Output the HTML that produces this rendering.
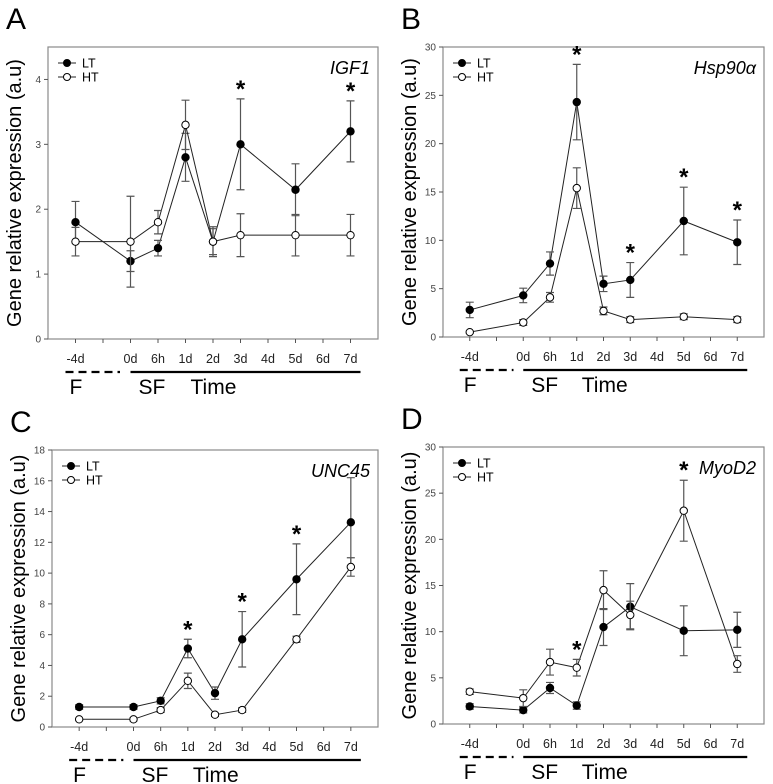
<!DOCTYPE html>
<html><head><meta charset="utf-8"><style>
html,body{margin:0;padding:0;background:#fff;}
svg{display:block;font-family:"Liberation Sans",sans-serif;}
</style></head><body>
<svg id="fig" width="773" height="784" viewBox="0 0 773 784" xmlns="http://www.w3.org/2000/svg"></svg>
<script>
const xCats = ["-4d","","0d","6h","1d","2d","3d","4d","5d","6d","7d"];
const ptIdx = [0,2,3,4,5,6,8,10];

const aLT = [1.8,1.2,1.4,2.8,1.5,3.0,2.3,3.2];
const aLTerr = [0.32,0.16,0.12,0.37,0.2,0.7,0.4,0.47];
const aHT = [1.5,1.5,1.8,3.3,1.5,1.6,1.6,1.6];
const aHTerr = [0.22,0.7,0.18,0.38,0.23,0.33,0.32,0.32];
const aStars = [6,10];

const bLT = [2.8,4.3,7.6,24.3,5.5,5.9,12.0,9.8];
const bLTerr = [0.8,0.75,1.2,3.9,0.8,1.8,3.5,2.3];
const bHT = [0.5,1.5,4.1,15.4,2.7,1.8,2.1,1.8];
const bHTerr = [0.1,0.3,0.5,2.1,0.4,0.3,0.3,0.3];
const bStars = [4,6,8,10];

const cLT = [1.3,1.3,1.7,5.1,2.2,5.7,9.6,13.3];
const cLTerr = [0.15,0.15,0.2,0.6,0.4,1.8,2.3,2.9];
const cHT = [0.5,0.5,1.1,3.0,0.8,1.1,5.7,10.4];
const cHTerr = [0.05,0.1,0.15,0.5,0.1,0.15,0.2,0.6];
const cStars = [4,6,8];

const dLT = [1.9,1.5,3.9,2.0,10.5,12.7,10.1,10.2];
const dLTerr = [0.3,0.3,0.6,0.4,2.0,2.5,2.7,1.9];
const dHT = [3.5,2.8,6.7,6.1,14.5,11.8,23.1,6.5];
const dHTerr = [0.3,0.9,1.4,0.9,2.1,1.5,3.3,0.9];
const dStars = [4,8];

const aTicks = [0,1,2,3,4];
const bTicks = [0,5,10,15,20,25,30];
const cTicks = [0,2,4,6,8,10,12,14,16,18];
const dTicks = [0,5,10,15,20,25,30];

const NS = "http://www.w3.org/2000/svg";
const svg = document.getElementById("fig");
function mk(tag, attrs, parent, text){
  const e = document.createElementNS(NS, tag);
  for (const k in attrs) e.setAttribute(k, attrs[k]);
  if (text !== undefined) e.textContent = text;
  (parent||svg).appendChild(e);
  return e;
}

function panel(p){
  const g = mk("g", {});
  
  
  const xs = i => p.L + (i + 1) * (p.R - p.L) / 12;
  const ys = v => p.B - v / p.ymax * (p.B - p.T);

  const lbl = mk("text", {x:p.L-42, y:p.T-18, "font-size":30}, g, p.letter);
  
  

  const box = mk("rect", {x:p.L, y:p.T, width:p.R-p.L, height:p.B-p.T, fill:"none", stroke:"#8a8a8a", "stroke-width":1.2}, g);
  
  

  p.ticks.forEach(t => {
    mk("line", {x1:p.L-4, x2:p.L, y1:ys(t), y2:ys(t), stroke:"#555"}, g);
    const tl = mk("text", {x:p.L-7, y:ys(t)+3.5, "font-size":10, fill:"#444", "text-anchor":"end"}, g, t);
    
    
  });
  xCats.forEach((c, i) => {
    mk("line", {x1:xs(i), x2:xs(i), y1:p.B, y2:p.B+4, stroke:"#555"}, g);
    if (c) {
      const tl = mk("text", {x:xs(i), y:p.B+24, "font-size":12.5, fill:"#222", "text-anchor":"middle"}, g, c);
      
      
    }
  });
  const ly = p.B + 33;
  const dl = mk("line", {x1:xs(0)-10, x2:xs(1)+17, y1:ly, y2:ly, stroke:"#000", "stroke-width":2.2, "stroke-dasharray":"8,5"}, g);
  
  
  const sl = mk("line", {x1:xs(2), x2:xs(10)+10, y1:ly, y2:ly, stroke:"#000", "stroke-width":2.2}, g);
  
  
  const f = mk("text", {x:xs(0)-6, y:ly+22, "font-size":21}, g, "F");
  
  
  const sf = mk("text", {x:xs(2)+8, y:ly+22, "font-size":21}, g, "SF");
  
  
  const tm = mk("text", {x:xs(4)+5, y:ly+22, "font-size":21}, g, "Time");
  
  

  const yt = mk("text", {x:0, y:0, "font-size":20, "text-anchor":"middle", transform:`translate(${p.L-27},${(p.T+p.B)/2}) rotate(-90)`}, g, "Gene relative expression (a.u)");
  
  

  const gn = mk("text", {x:p.R-8, y:p.T+27, "font-size":18, "font-style":"italic", "text-anchor":"end"}, g, p.gene);
  
  

  [[p.lt, p.ltErr, "#000", "lt"], [p.ht, p.htErr, "#fff", "ht"]].forEach(([vals, errs, fill, nm]) => {
    const pts = vals.map((v, k) => xs(ptIdx[k]) + "," + ys(v)).join(" ");
    const pl = mk("polyline", {points:pts, fill:"none", stroke:"#222", "stroke-width":1}, g);
    
    
    vals.forEach((v, k) => {
      const x = xs(ptIdx[k]);
      const e = mk("path", {d:`M${x},${ys(v-errs[k])}V${ys(v+errs[k])}M${x-4},${ys(v-errs[k])}h8M${x-4},${ys(v+errs[k])}h8`, stroke:"#555", "stroke-width":1.2, fill:"none"}, g);
      
      
    });
    vals.forEach((v, k) => {
      const c = mk("circle", {cx:xs(ptIdx[k]), cy:ys(v), r:3.7, fill:fill, stroke:"#000", "stroke-width":1}, g);
      
      
    });
  });

  p.stars.forEach(i => {
    const k = ptIdx.indexOf(i);
    const top = Math.max(p.lt[k] + p.ltErr[k], p.ht[k] + p.htErr[k]);
    const s = mk("text", {x:xs(i), y:ys(top)-2, "font-size":24, "font-weight":"bold", "text-anchor":"middle"}, g, "*");
    
    
  });

  const lx = p.L + 10, l1 = p.T + 16, l2 = p.T + 30;
  const lg = mk("g", {}, g);
  
  
  [[l1, "#000", "LT"], [l2, "#fff", "HT"]].forEach(([yy, fill, t]) => {
    mk("line", {x1:lx, x2:lx+18, y1:yy, y2:yy, stroke:"#222"}, lg);
    mk("circle", {cx:lx+9, cy:yy, r:3.5, fill:fill, stroke:"#000"}, lg);
    const lt = mk("text", {x:lx+24, y:yy+4.5, "font-size":12.5}, lg, t);
    
    
  });
}

panel({letter:"A", gene:"IGF1", L:48, R:378, T:47, B:339, ymax:4.5, ticks:aTicks, lt:aLT, ltErr:aLTerr, ht:aHT, htErr:aHTerr, stars:aStars});
panel({letter:"B", gene:"Hsp90α", L:443, R:764, T:47, B:337, ymax:30, ticks:bTicks, lt:bLT, ltErr:bLTerr, ht:bHT, htErr:bHTerr, stars:bStars});
panel({letter:"C", gene:"UNC45", L:52, R:378, T:450, B:727, ymax:18, ticks:cTicks, lt:cLT, ltErr:cLTerr, ht:cHT, htErr:cHTerr, stars:cStars});
panel({letter:"D", gene:"MyoD2", L:443, R:764, T:447, B:724, ymax:30, ticks:dTicks, lt:dLT, ltErr:dLTerr, ht:dHT, htErr:dHTerr, stars:dStars});
</script>
</body></html>
